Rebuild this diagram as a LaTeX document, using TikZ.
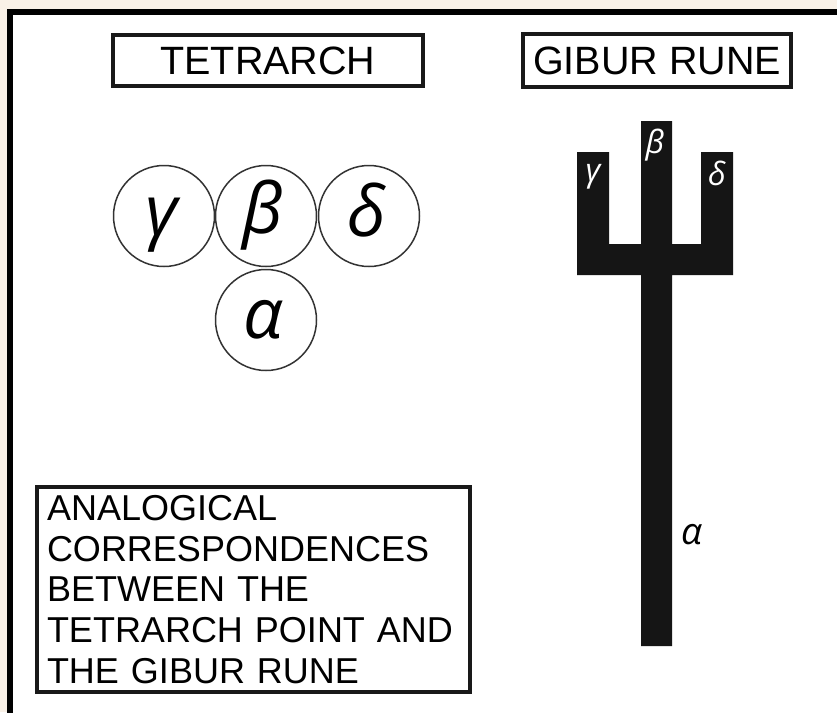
\documentclass[tikz,border=0pt]{standalone}
\usepackage{fontspec}
\setmainfont{Liberation Sans}
\newfontfamily\grk{Open Sans}
\definecolor{beige}{RGB}{249,241,231}
\definecolor{runeblack}{RGB}{21,21,21}
\begin{document}
\begin{tikzpicture}[x=1pt,y=-1pt,
  titlebox/.style={draw=black!90, line width=4pt, inner sep=0pt, font=\fontsize{39.5}{40}\selectfont},
  ring/.style={circle, draw=black!80, line width=1.5pt, minimum size=101pt, inner sep=0pt},
  bigletter/.style={inner sep=0pt, font=\grk\itshape\fontsize{70}{72}\selectfont},
  runeletter/.style={inner sep=0pt, font=\grk\itshape\fontsize{32}{34}\selectfont},
]
\useasboundingbox (0,0) rectangle (837,712);
\fill[beige] (0,0) rectangle (837,712);
\fill[white, draw=black, line width=5.5pt] (9.75,12) rectangle (860,740);

% title boxes
\node[titlebox, minimum width=310pt, minimum height=51pt] (tetra) at (268,60.5) {TETRARCH};
\node[titlebox, minimum width=268pt, minimum height=53pt] (gibur) at (657,60.5) {GIBUR RUNE};

% circles
\node[ring] (cg) at (164,216) {};
\node[ring] (cb) at (266,216) {};
\node[ring] (cd) at (369,216) {};
\node[ring] (ca) at (266,320) {};
\node[bigletter] (lg) at (162,225) {γ};
\node[bigletter] (lb) at (263,215) {β};
\node[bigletter] (ld) at (367,210) {δ};
\node[bigletter] (la) at (263,320) {α};

% rune
\fill[runeblack] (577,152) -- (609,152) -- (609,244) -- (641,244) -- (641,121) -- (672,121)
  -- (672,244) -- (701,244) -- (701,152) -- (733,152) -- (733,275) -- (672,275)
  -- (672,646) -- (641,646) -- (641,275) -- (577,275) -- cycle;
\node[runeletter, text=white] (rg) at (593,177) {γ};
\node[runeletter, text=white] (rb) at (655,145) {β};
\node[runeletter, text=white] (rd) at (717,173) {δ};
\node[inner sep=0pt, font=\grk\itshape\fontsize{37}{39}\selectfont] (ra) at (692,535) {α};

% caption box
\node[draw=black!90, line width=4pt, anchor=north west, minimum width=433pt, minimum height=205pt,
  inner xsep=10pt, inner ysep=0pt, text width=413pt, align=left,
  font=\fontsize{36}{40.7}\selectfont] (caption) at (35,485)
  {ANALOGICAL\\CORRESPONDENCES\\BETWEEN THE\\TETRARCH POINT AND\\THE GIBUR RUNE};
\end{tikzpicture}
\end{document}
